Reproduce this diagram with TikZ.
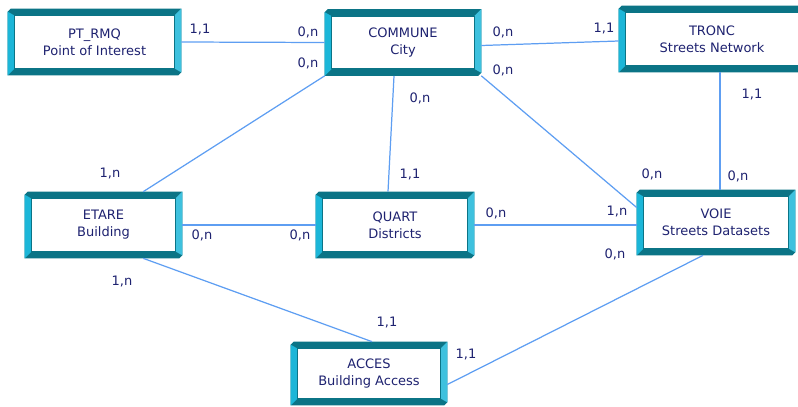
\documentclass[tikz,border=0pt]{standalone}
\usepackage{fontspec}
\setmainfont{DejaVu Sans}
\definecolor{entdark}{HTML}{0B7486}
\definecolor{entlight}{HTML}{1CB6D8}
\definecolor{linkblue}{HTML}{5E9EF2}
\definecolor{inknavy}{HTML}{1E2270}
\pgfdeclarelayer{frame}
\pgfsetlayers{frame,main}
% 3d frame round an entity box, 7 units thick
\newcommand\entframe[1]{%
  \fill[entdark] ([shift={(0,3)}]#1.north west) -- ([shift={(3,0)}]#1.north west)
    -- (#1.north east) -- ([shift={(0,-3)}]#1.south east)
    -- ([shift={(-3,0)}]#1.south east) -- (#1.south west) -- cycle;
  \fill[entlight] ([shift={(0,3)}]#1.north west) -- (#1.south west)
    -- ([shift={(7,-7)}]#1.south west) -- ([shift={(7,7)}]#1.north west) -- cycle;
  \fill[entlight!85!white] (#1.north east) -- ([shift={(0,-3)}]#1.south east)
    -- ([shift={(-7,-7)}]#1.south east) -- ([shift={(-7,7)}]#1.north east) -- cycle;
  \filldraw[fill=white, draw=entdark, line width=0.5pt]
    ([shift={(7,7)}]#1.north west) rectangle ([shift={(-7,-7)}]#1.south east);
}
\begin{document}
\begin{tikzpicture}[x=0.02cm, y=-0.02cm,
    every node/.style={text=inknavy, font=\fontsize{7.4}{9.6}\selectfont},
    ent/.style={align=center, inner sep=0pt, minimum width=3.14cm, minimum height=1.32cm},
    link/.style={draw=linkblue, line width=0.7pt}]
  \useasboundingbox (0,0) rectangle (798,406);

  % entities
  \node[ent, minimum width=3.46cm] (ptrmq) at (94.5,42) {PT\_RMQ\\Point of Interest};
  \node[ent, minimum width=3.12cm] (commune) at (403,42.5) {COMMUNE\\City};
  \node[ent, minimum width=3.72cm] (tronc) at (712,39) {TRONC\\Streets Network};
  \node[ent] (etare) at (103.5,225) {ETARE\\Building};
  \node[ent, minimum width=3.16cm] (quart) at (395,225) {QUART\\Districts};
  \node[ent, minimum width=3.16cm, minimum height=1.3cm] (voie) at (716,222.5) {VOIE\\Streets Datasets};
  \node[ent, minimum width=3.12cm, minimum height=1.26cm] (acces) at (369,373.5) {ACCES\\Building Access};

  \begin{pgfonlayer}{frame}
    \foreach \e in {ptrmq,commune,tronc,etare,quart,voie,acces}
      \entframe{\e};
  \end{pgfonlayer}

  % relations
  \draw[link] (ptrmq.east) -- (commune.west);
  \draw[link] ([shift={(0,3)}]commune.east) -- ([shift={(0,2)}]tronc.west);
  \draw[link] (commune.south west) -- (etare.40);
  \draw[link] ([shift={(-9,0)}]commune.south) -- ([shift={(-7,0)}]quart.north);
  \draw[link] (commune.south east) -- ([shift={(0,-15)}]voie.west);
  \draw[link] ([shift={(8,0)}]tronc.south) -- ([shift={(4,0)}]voie.north);
  \draw[link] (etare.east) -- (quart.west);
  \draw[link] (quart.east) -- (quart.east -| voie.west);
  \draw[link] (etare.-40) -- ([shift={(3,0)}]acces.north);
  \draw[link] ([shift={(-13,0)}]voie.south) -- ([shift={(0,11)}]acces.east);

  % cardinalities
  \node (c1) at (200,30) {1,1};
  \node (c2) at (308,32) {0,n};
  \node (c3) at (308,63) {0,n};
  \node (c4) at (503,32) {0,n};
  \node (c5) at (604,29) {1,1};
  \node (c6) at (503,70) {0,n};
  \node (c7) at (420,98) {0,n};
  \node (c8) at (752,95) {1,1};
  \node (c9) at (110,174) {1,n};
  \node (c10) at (410,175) {1,1};
  \node (c11) at (652,174) {0,n};
  \node (c12) at (738,176) {0,n};
  \node (c13) at (202,235) {0,n};
  \node (c14) at (300,235) {0,n};
  \node (c15) at (496,213) {0,n};
  \node (c16) at (617,212) {1,n};
  \node (c17) at (615,254) {0,n};
  \node (c18) at (122,282) {1,n};
  \node (c19) at (387,323) {1,1};
  \node (c20) at (466,355) {1,1};
\end{tikzpicture}
\end{document}
